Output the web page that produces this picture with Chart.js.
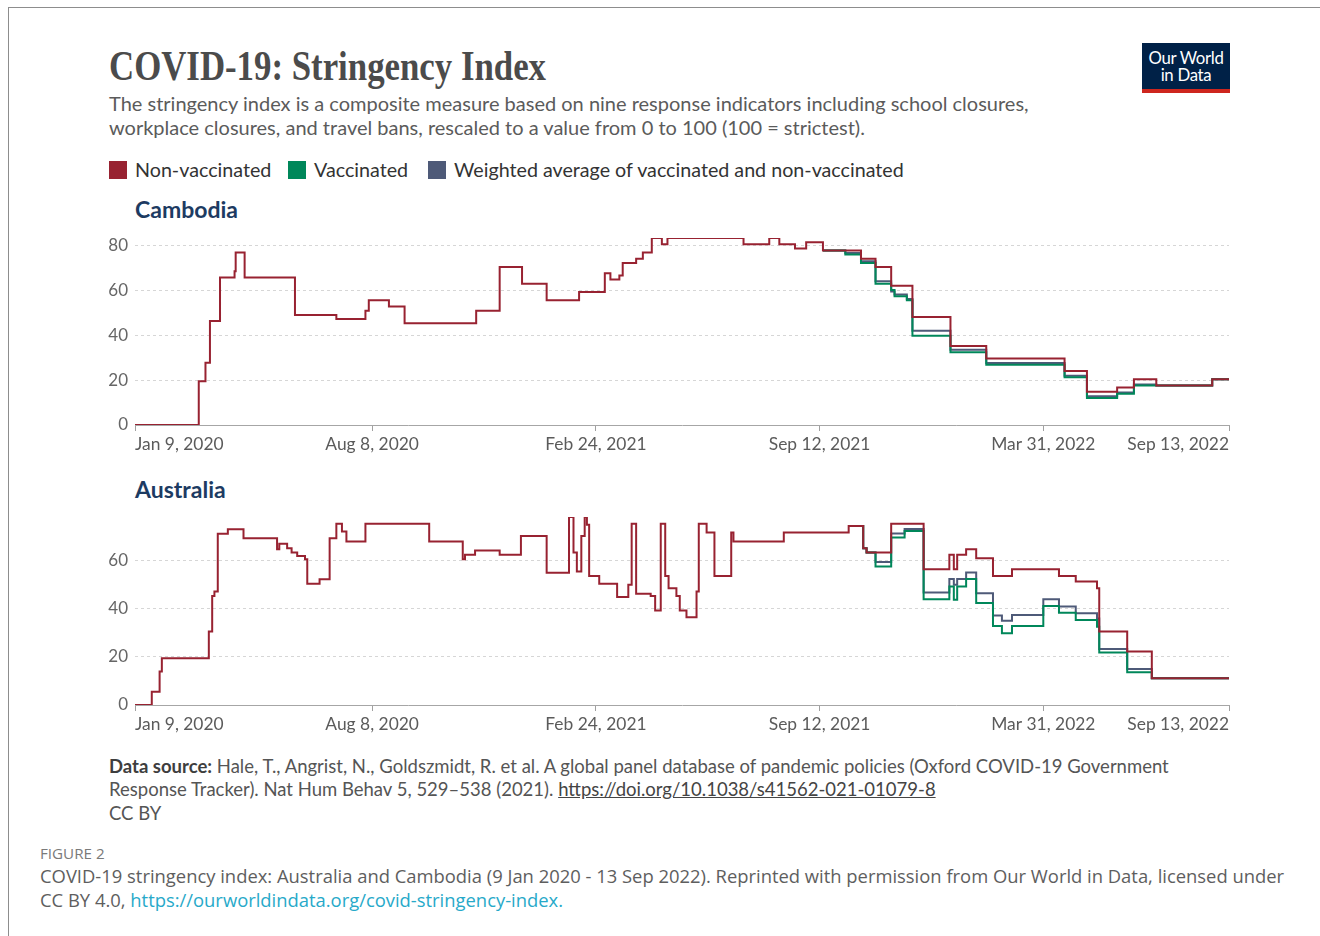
<!DOCTYPE html>
<html><head><meta charset="utf-8">
<script src="https://cdn.jsdelivr.net/npm/chart.js@4.4.1/dist/chart.umd.min.js"></script>
<style>
html,body{margin:0;padding:0;background:#fff;}
body{width:1320px;height:936px;position:relative;overflow:hidden;font-family:Lato,"Open Sans",sans-serif;}
.frame{position:absolute;left:8px;top:7px;width:1400px;height:1000px;border-top:1.5px solid #8d8d8d;border-left:1.5px solid #8d8d8d;}
.t{position:absolute;white-space:nowrap;line-height:1;}
#title{left:109px;top:45px;font-family:"Liberation Serif",serif;font-weight:bold;font-size:42px;color:#4b4b4b;transform-origin:0 0;}
.sub{left:109px;font-size:20px;color:#5b5b5b;}
.leg{top:160px;font-size:19.7px;color:#333;}
.sw{position:absolute;top:161px;width:18px;height:18px;}
.country{left:135px;font-size:23px;font-weight:bold;color:#1d3b62;}
#logo{position:absolute;left:1142px;top:43px;width:88px;height:50px;background:#002147;border-bottom:4px solid #ce261e;box-sizing:border-box;color:#fff;text-align:center;font-size:16.8px;line-height:16.5px;padding-top:7px;letter-spacing:-0.3px;}
.src{left:109px;font-size:18.5px;color:#555;}
.cap{left:40px;font-family:"Open Sans",sans-serif;font-size:18.4px;color:#5e5e5e;}
.box{position:absolute;}
</style></head>
<body>
<div class="frame"></div>
<div class="t" id="title">COVID-19: Stringency Index</div>
<div class="t sub" style="top:93px">The stringency index is a composite measure based on nine response indicators including school closures,</div>
<div class="t sub" style="top:117px">workplace closures, and travel bans, rescaled to a value from 0 to 100 (100 = strictest).</div>
<div id="logo">Our World<br>in Data</div>
<div class="sw" style="left:109px;background:#982231"></div><div class="t leg" style="left:135px">Non-vaccinated</div>
<div class="sw" style="left:288px;background:#00875a"></div><div class="t leg" style="left:314px">Vaccinated</div>
<div class="sw" style="left:428px;background:#4e5a78"></div><div class="t leg" style="left:454px">Weighted average of vaccinated and non-vaccinated</div>
<div class="t country" style="top:198px">Cambodia</div>
<div class="t country" style="top:478px">Australia</div>
<div class="box" style="left:60px;top:228px;width:1190px;height:236px"><canvas id="cam"></canvas></div>
<div class="box" style="left:60px;top:507px;width:1190px;height:237px"><canvas id="aus"></canvas></div>
<div class="t src" style="top:757px"><b style="color:#3e3e3e">Data source:</b> Hale, T., Angrist, N., Goldszmidt, R. et al. A global panel database of pandemic policies (Oxford COVID-19 Government</div>
<div class="t src" style="top:780px">Response Tracker). Nat Hum Behav 5, 529–538 (2021). <span style="text-decoration:underline;color:#444">https://doi.org/10.1038/s41562-021-01079-8</span></div>
<div class="t src" style="top:804px">CC BY</div>
<div class="t cap" style="top:846px;font-size:15.2px;color:#7a7a7a">FIGURE 2</div>
<div class="t cap" style="top:867px">COVID-19 stringency index: Australia and Cambodia (9 Jan 2020 - 13 Sep 2022). Reprinted with permission from Our World in Data, licensed under</div>
<div class="t cap" style="top:891px">CC BY 4.0, <span style="color:#27a9c9">https://ourworldindata.org/covid-stringency-index.</span></div>
<script>
// x values are days since Jan 9, 2020
const tickDays = [0, 212, 412, 612, 812, 978];
const tickLabels = ['Jan 9, 2020', 'Aug 8, 2020', 'Feb 24, 2021', 'Sep 12, 2021', 'Mar 31, 2022', 'Sep 13, 2022'];
const seriesNames = ['Non-vaccinated', 'Vaccinated', 'Weighted average of vaccinated and non-vaccinated'];

const camNonVaxDays = [0, 57, 63, 67, 76, 89, 90, 98, 143, 180, 206, 209, 227, 241, 305, 326, 346, 368, 397, 420, 425, 433, 436, 448, 454, 462, 471, 476, 544, 567, 576, 590, 600, 615, 649, 662, 676, 695, 729, 761, 831, 851, 878, 893, 913, 963, 978];
const camNonVaxValues = [0, 19.44, 27.78, 46.3, 65.74, 68.52, 76.85, 65.74, 49.07, 47.22, 50.93, 55.56, 52.78, 45.37, 50.93, 70.37, 62.96, 55.56, 59.26, 67.59, 64.81, 66.67, 72.22, 74.07, 76.85, 83.33, 80.56, 83.33, 80.56, 83.33, 80.56, 78.7, 81.48, 77.78, 74.07, 70.37, 62.04, 48.15, 35.19, 29.63, 24.07, 14.81, 16.67, 20.37, 17.59, 20.37, 20.37];
const camVaxDays = [615, 635, 649, 662, 676, 679, 690, 695, 729, 761, 831, 851, 878, 893, 913, 963, 978];
const camVaxValues = [77.78, 75.93, 72.22, 62.96, 60.19, 57.41, 55.56, 39.81, 32.41, 26.85, 21.3, 12.04, 13.89, 17.59, 17.59, 20.37, 20.37];
const camWeightedDays = [615, 635, 649, 662, 676, 679, 690, 695, 729, 761, 831, 851, 878, 893, 913, 963, 978];
const camWeightedValues = [77.78, 76.7, 73.0, 64.1, 59.5, 58.1, 56.2, 42.0, 33.5, 27.6, 22.0, 12.8, 14.5, 18.0, 17.59, 20.37, 20.37];

const ausNonVaxDays = [0, 15, 22, 24, 66, 69, 71, 74, 83, 97, 127, 129, 136, 140, 145, 152, 154, 165, 174, 180, 185, 189, 206, 263, 293, 295, 304, 326, 345, 368, 388, 392, 395, 399, 402, 404, 406, 415, 431, 441, 444, 448, 461, 465, 470, 474, 477, 484, 487, 493, 502, 504, 511, 518, 533, 535, 580, 638, 651, 654, 676, 705, 728, 732, 735, 743, 752, 767, 784, 826, 841, 860, 862, 887, 909, 978];
const ausNonVaxValues = [0, 5.56, 13.89, 19.44, 30.56, 45.37, 47.22, 71.3, 73.15, 69.44, 64.81, 67.13, 65.28, 63.43, 62.04, 60.65, 50.46, 52.31, 69.44, 75.46, 72.22, 68.06, 75.46, 68.06, 60.65, 62.5, 64.35, 62.5, 70.37, 55.09, 78.24, 63.43, 55.56, 70.37, 78.24, 75.0, 53.7, 50.46, 44.91, 50.0, 75.46, 46.3, 45.37, 39.35, 75.46, 53.7, 48.61, 45.37, 39.35, 36.57, 47.22, 75.46, 71.76, 53.7, 71.76, 68.06, 71.76, 74.54, 65.28, 63.43, 75.46, 56.48, 62.5, 56.48, 62.5, 64.81, 61.11, 53.7, 56.48, 53.7, 51.39, 48.61, 30.56, 22.22, 11.11, 11.11];
const ausVaxDays = [638, 651, 654, 662, 676, 688, 705, 728, 732, 735, 743, 752, 767, 775, 784, 812, 826, 841, 860, 862, 887, 909, 978];
const ausVaxValues = [74.54, 65.28, 63.43, 57.64, 69.68, 72.4, 44.0, 49.3, 43.75, 49.3, 52.4, 42.4, 32.9, 29.9, 32.9, 41.2, 38.4, 35.4, 32.6, 21.8, 13.6, 11.11, 11.11];
const ausWeightedDays = [638, 651, 654, 662, 676, 688, 705, 728, 732, 735, 743, 752, 767, 775, 784, 812, 826, 841, 860, 862, 887, 909, 978];
const ausWeightedValues = [74.54, 65.28, 63.43, 59.5, 71.4, 73.2, 46.8, 52.4, 50.0, 52.4, 55.1, 46.5, 37.2, 35.1, 37.5, 44.0, 41.0, 38.2, 36.0, 23.3, 15.0, 11.11, 11.11];

const colors = ['#982231', '#00875a', '#4e5a78'];

function pts(days, vals) { return days.map((d, i) => ({x: d, y: vals[i]})); }

function makeChart(id, series) {
  const yMax = Math.max(...series.map(s => Math.max(...s[1])));
  return new Chart(document.getElementById(id), {
    type: 'line',
    data: {
      datasets: series.map((s, i) => ({
        label: seriesNames[i],
        data: pts(s[0], s[1]),
        borderColor: colors[i],
        backgroundColor: colors[i],
        borderWidth: 2,
        pointRadius: 0,
        stepped: true,
        fill: false
      }))
    },
    options: {
      responsive: true,
      maintainAspectRatio: false,
      animation: false,
      events: [],
      layout: {padding: {top: 10, right: 21, left: 0, bottom: 0}},
      plugins: {legend: {display: false}, tooltip: {enabled: false}},
      scales: {
        x: {
          type: 'linear', min: tickDays[0], max: tickDays[tickDays.length - 1],
          afterBuildTicks: sc => { sc.ticks = tickDays.map(v => ({value: v})); },
          afterFit: sc => { sc.height = 39; sc.paddingLeft = 0; sc.paddingRight = 0; },
          ticks: {
            autoSkip: false, maxRotation: 0, align: 'inner', padding: 3,
            color: '#5b5b5b', font: {family: 'Lato', size: 17.4},
            callback: v => tickLabels[tickDays.indexOf(v)]
          },
          grid: {drawOnChartArea: false, drawTicks: true, tickLength: 6, tickColor: '#a0a0a0'},
          border: {display: true, color: '#a6a6a6', width: 1}
        },
        y: {
          min: 0, max: yMax,
          afterFit: sc => { sc.width = 75; sc.paddingTop = 0; sc.paddingBottom = 0; },
          ticks: {stepSize: 20, includeBounds: false, padding: 7, color: '#666', font: {family: 'Lato', size: 17}},
          grid: {drawTicks: false, color: c => (c.tick && c.tick.value === 0) ? 'rgba(0,0,0,0)' : '#d6d6d6', lineWidth: 1},
          border: {display: false, dash: [3, 3]}
        }
      }
    }
  });
}

makeChart('cam', [[camNonVaxDays, camNonVaxValues], [camVaxDays, camVaxValues], [camWeightedDays, camWeightedValues]]);
makeChart('aus', [[ausNonVaxDays, ausNonVaxValues], [ausVaxDays, ausVaxValues], [ausWeightedDays, ausWeightedValues]]);

// fit title width to the reference width
const tEl = document.getElementById('title');
const w = tEl.getBoundingClientRect().width;
tEl.style.transform = 'scaleX(' + (437 / w) + ')';
</script>
</body></html>
